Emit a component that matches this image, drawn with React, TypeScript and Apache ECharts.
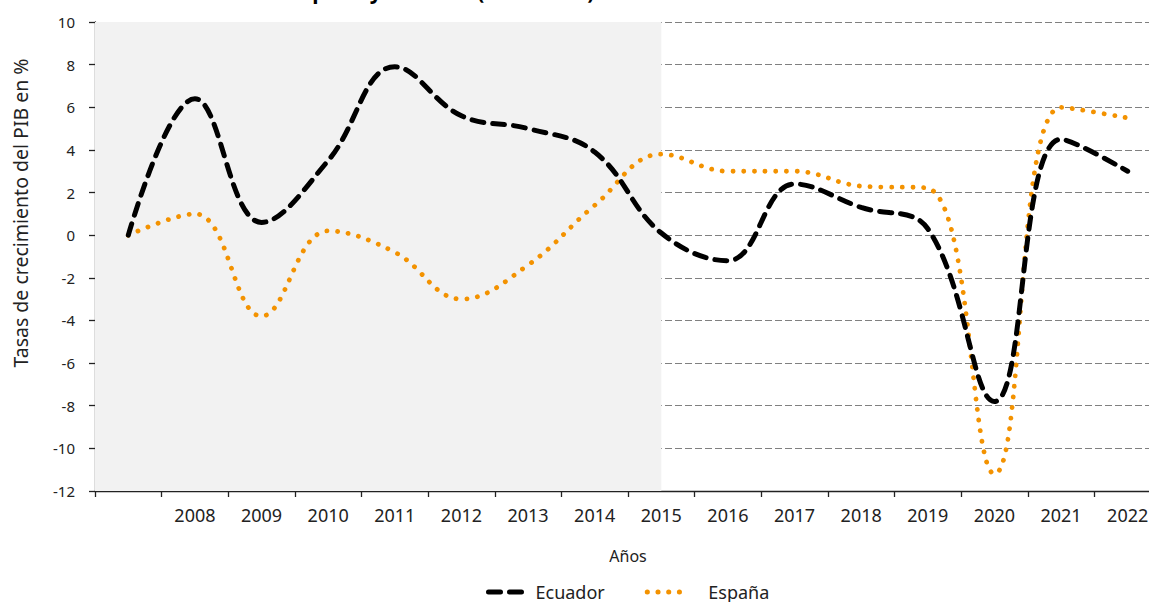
import React, { useEffect, useRef } from "react";
import * as echarts from "echarts";

const years = ["2007", "2008", "2009", "2010", "2011", "2012", "2013", "2014", "2015", "2016", "2017", "2018", "2019", "2020", "2021", "2022"];
const ecuador = [0, 6.4, 0.6, 3.5, 7.9, 5.6, 5.0, 3.9, 0.1, -1.2, 2.4, 1.3, 0.3, -7.8, 4.5, 3.0];
const espana = [0, 1.0, -3.8, 0.2, -0.8, -3.0, -1.4, 1.4, 3.8, 3.0, 3.0, 2.3, 2.2, -11.2, 6.0, 5.5];
const shadedUntil = "2015";
const yMin = -12;
const yMax = 10;
const yStep = 2;

export default function App() {
  const ref = useRef<HTMLDivElement>(null);
  useEffect(() => {
    document.body.style.margin = "0";
    document.body.style.overflow = "hidden";
    document.documentElement.style.overflow = "hidden";
    const chart = echarts.init(ref.current!, undefined, { renderer: "svg" });
    chart.setOption({
      animation: false,
      textStyle: { fontFamily: "Noto Sans" },
      grid: { left: 95, top: 22, bottom: 111, right: 0, containLabel: false },
      graphic: [
        {
          type: "text",
          left: 290,
          top: -20,
          style: {
            text: "España y Ecuador (2007-2022)",
            font: "bold 21px 'Noto Sans'",
            fill: "#000",
          },
        },
        {
          type: "text",
          right: 871,
          top: -20,
          style: {
            text: "Crecimiento del PIB de ",
            font: "bold 21px 'Noto Sans'",
            fill: "#000",
          },
        },
        {
          type: "text",
          x: 20,
          y: 213,
          rotation: Math.PI / 2,
          style: {
            text: "Tasas de crecimiento del PIB en %",
            font: "19.5px 'Noto Sans'",
            fill: "#222",
            align: "center",
            verticalAlign: "middle",
          },
        },
      ],
      legend: {
        left: 481,
        top: 578,
        data: ["Ecuador", "España"],
        itemWidth: 42,
        itemHeight: 14,
        itemGap: 40,
        itemStyle: { opacity: 0 },
        lineStyle: { width: 5 },
        formatter: (name: string) => (name === "España" ? "   " + name : name),
        textStyle: { fontSize: 18, color: "#222", fontFamily: "Noto Sans" },
      },
      xAxis: {
        type: "category",
        data: years,
        name: "Años",
        nameLocation: "middle",
        nameGap: 57,
        nameTextStyle: { fontSize: 16, color: "#222", fontFamily: "Noto Sans" },
        axisLine: { onZero: false, lineStyle: { color: "#222", width: 1.3 } },
        axisTick: { show: true, length: 6, lineStyle: { color: "#222", width: 1.3 } },
        axisLabel: {
          interval: 0,
          margin: 15,
          fontSize: 18,
          color: "#222",
          fontFamily: "Noto Sans",
          formatter: (v: string) => (v === years[0] ? "" : v),
        },
        splitLine: { show: false },
      },
      yAxis: {
        type: "value",
        min: yMin,
        max: yMax,
        interval: yStep,
        axisLine: { show: true, lineStyle: { color: "#222", width: 1.3 } },
        axisTick: { show: true, length: 6, lineStyle: { color: "#222", width: 1.3 } },
        axisLabel: { margin: 20, fontSize: 15, color: "#222", fontFamily: "Noto Sans" },
        splitLine: { show: true, lineStyle: { color: "#808080", width: 1, type: [7, 3] } },
      },
      series: [
        {
          name: "bg",
          type: "line",
          data: [],
          z: 1,
          silent: true,
          markArea: {
            silent: true,
            itemStyle: { color: "#f2f2f2" },
            data: [[{}, { xAxis: shadedUntil }]],
          },
        },
        {
          name: "Ecuador",
          type: "line",
          data: ecuador,
          smooth: 0.4,
          symbol: "none",
          z: 4,
          color: "#000",
          lineStyle: { color: "#000", width: 5, type: [12, 9], cap: "round" },
        },
        {
          name: "España",
          type: "line",
          data: espana,
          smooth: 0.4,
          symbol: "none",
          z: 3,
          color: "#f39200",
          lineStyle: { color: "#f39200", width: 4.8, type: [0.1, 10.6], cap: "round" },
        },
      ],
    });
    return () => chart.dispose();
  }, []);
  return <div ref={ref} style={{ width: 1161, height: 602 }} />;
}
